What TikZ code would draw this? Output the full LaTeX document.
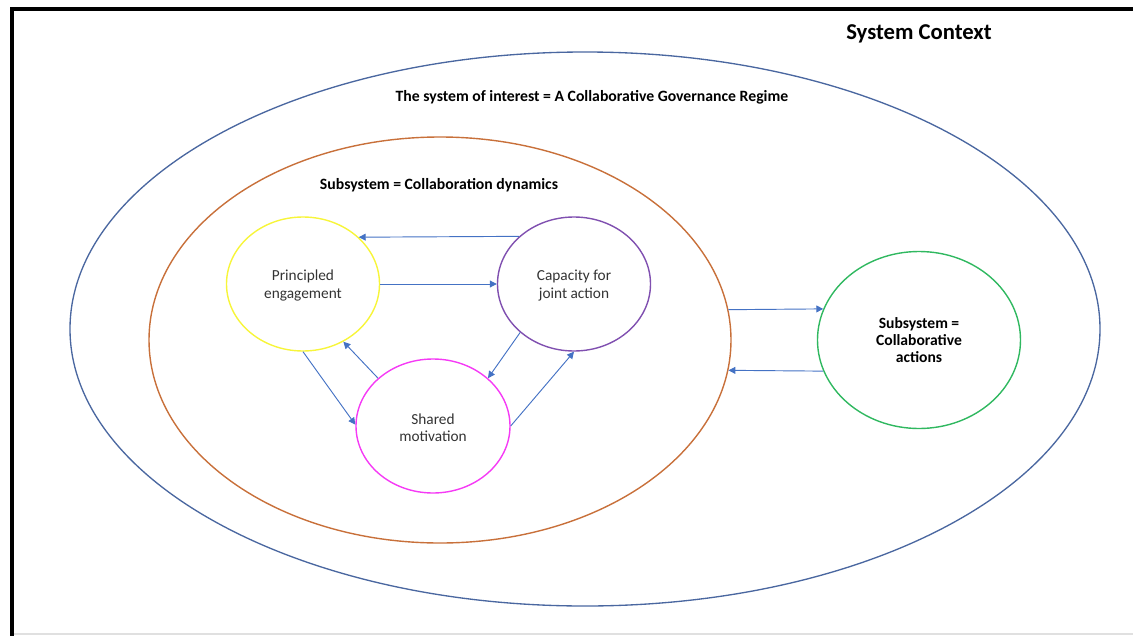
\documentclass[tikz,border=0pt]{standalone}
\usepackage{fontspec}
\setmainfont{Carlito}
\usetikzlibrary{shapes.geometric,arrows.meta}
\definecolor{outerblue}{HTML}{4A67A0}
\definecolor{orangeC}{HTML}{C8703A}
\definecolor{yellowC}{HTML}{F7F53A}
\definecolor{purpleC}{HTML}{8050B0}
\definecolor{magentaC}{HTML}{F53AF5}
\definecolor{greenC}{HTML}{30B860}
\definecolor{arrowC}{HTML}{4472C4}
\definecolor{textC}{HTML}{333333}
\tikzset{
  ell/.style={ellipse, draw, line width=1.05pt, inner sep=0pt},
  circtext/.style={text=textC, align=center, inner sep=0pt, font=\fontsize{11.5}{12.9}\selectfont},
  flow/.style={draw=arrowC, line width=0.7pt, -{Triangle[length=5.2pt,width=5.2pt]}},
  boldlabel/.style={font=\bfseries\fontsize{11.8}{13.5}\selectfont, text=black, inner sep=0pt}
}
\begin{document}
\begin{tikzpicture}[x=0.75pt,y=-0.75pt]
\useasboundingbox (0,0) rectangle (1133,636);
% frame
\draw[black!12, line width=1.5pt] (12,634) -- (1133,634);
\draw[black, line width=2.6pt] (12,636) -- (12,9) -- (1133,9);
% ellipses
\node[ell, draw=outerblue, line width=1pt, minimum width=772.5pt, minimum height=415.5pt] (S) at (585,329) {};
\node[ell, draw=orangeC, minimum width=436.5pt, minimum height=304.5pt] (O) at (440,340) {};
\node[ell, draw=yellowC, minimum width=114.75pt, minimum height=100.5pt] (Y) at (303,284) {};
\node[ell, draw=purpleC, minimum width=114.75pt, minimum height=100.5pt] (C) at (574,284) {};
\node[ell, draw=magentaC, minimum width=115.5pt, minimum height=100.5pt] (M) at (433,426) {};
\node[ell, draw=greenC, minimum width=152.25pt, minimum height=132.75pt, align=center, font=\bfseries\fontsize{11.7}{12.6}\selectfont] (G) at (919,340) {Subsystem =\\Collaborative\\actions};
% circle texts
\node[circtext] (Yt) at (303,285.5) {Principled\\engagement};
\node[circtext] (Ct) at (574,285.5) {Capacity for\\joint action};
\node[circtext] (Mt) at (433,427.5) {Shared\\motivation};
% labels
\node[boldlabel, font=\bfseries\fontsize{17}{19}\selectfont] (title) at (919,34) {System Context};
\node[boldlabel] (soi) at (592,97) {The system of interest = A Collaborative Governance Regime};
\node[boldlabel] (sub) at (439,185) {Subsystem = Collaboration dynamics};
% arrows
\draw[flow] (C.139) -- (Y.40);
\draw[flow] (Y.east) -- (C.west);
\draw[flow] (Y.south) -- (M.179);
\draw[flow] (M.139) -- (Y.305);
\draw[flow] (C.222) -- (M.41);
\draw[flow] (M.east) -- (C.south);
\draw[flow] (O.6) -- (G.162);
\draw[flow] (G.198) -- (O.-6);
\end{tikzpicture}
\end{document}
